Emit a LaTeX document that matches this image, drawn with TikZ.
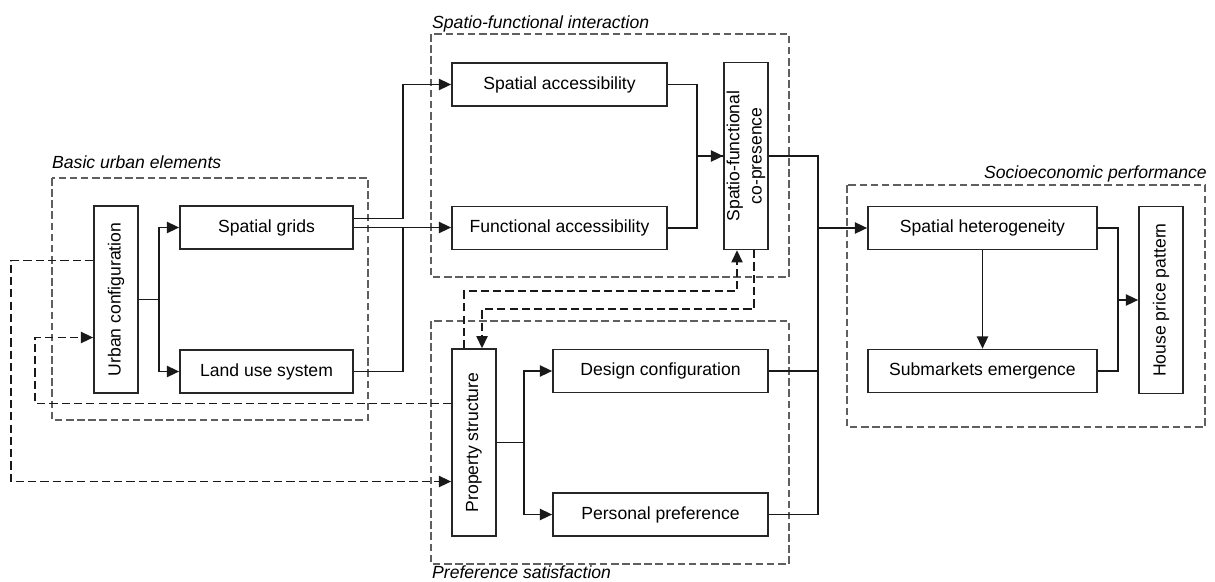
\documentclass[tikz,border=0pt]{standalone}
\usepackage{fontspec}
\setmainfont{Liberation Sans}
\usetikzlibrary{arrows.meta,calc}
\definecolor{grpgray}{RGB}{95,95,95}

\begin{document}
\begin{tikzpicture}[x=0.03cm, y=-0.03cm,
    every node/.style={font=\fontsize{15}{19}\selectfont},
    hbox/.style={draw=black!85, line width=1.4pt, inner sep=0pt, minimum height=1.29cm},
    vbox/.style={draw=black!85, line width=1.4pt, inner sep=0pt, minimum width=5.6cm, minimum height=1.32cm, rotate=90, align=center},
    grp/.style={draw=grpgray, line width=1pt, dash pattern=on 6.5pt off 3pt},
    grplabel/.style={font=\fontsize{15}{18}\selectfont\itshape, inner sep=0pt},
    link/.style={line width=1.6pt, draw=black!90},
    arr/.style={link, -{Triangle[length=10.5pt,width=9.5pt]}},
    fb/.style={link, dash pattern=on 7pt off 3.5pt},
    fbarr/.style={fb, -{Triangle[length=10.5pt,width=9.5pt]}}]

    \useasboundingbox (0,0) rectangle (1215,581);

    % group frames
    \draw[grp] (52,178) rectangle (368,420);
    \draw[grp] (431,34) rectangle (789,277);
    \draw[grp] (431,321) rectangle (789,564);
    \draw[grp] (847,185) rectangle (1205,427);

    \node[grplabel, anchor=base west] (lbue) at (52,168) {Basic urban elements};
    \node[grplabel, anchor=base west] (lsfi) at (432,28) {Spatio-functional interaction};
    \node[grplabel, anchor=base west] (lpsa) at (432,578) {Preference satisfaction};
    \node[grplabel, anchor=base east] (lsep) at (1207,178) {Socioeconomic performance};

    % boxes
    \node[vbox] (uc) at (116,299.5) {Urban configuration};
    \node[hbox, minimum width=5.19cm] (sg) at (266.5,227.5) {Spatial grids};
    \node[hbox, minimum width=5.19cm] (lu) at (266.5,371.5) {Land use system};

    \node[hbox, minimum width=6.45cm] (sa) at (559.5,84.5) {Spatial accessibility};
    \node[hbox, minimum width=6.45cm] (fa) at (559.5,228) {Functional accessibility};
    \node[vbox] (cp) at (746,156) {Spatio-functional\\co-presence};

    \node[vbox] (ps) at (474,442.5) {Property structure};
    \node[hbox, minimum width=6.45cm] (dc) at (660.5,371) {Design configuration};
    \node[hbox, minimum width=6.45cm] (pp) at (660.5,514.5) {Personal preference};

    \node[hbox, minimum width=6.87cm] (sh) at (982.5,228) {Spatial heterogeneity};
    \node[hbox, minimum width=6.87cm] (se) at (982.5,371) {Submarkets emergence};
    \node[vbox] (hp) at (1161,300) {House price pattern};

    % basic urban elements
    \draw[arr] (uc.south) -- ++(20,0) |- (sg.west);
    \draw[arr] (uc.south) -- ++(20,0) |- (lu.west);

    % into spatio-functional interaction
    \draw[arr] ($(sg.east)+(0,-9)$) -- ++(49,0) |- (sa.west);
    \draw[arr] (sg.east) -- (sg.east -| fa.west);
    \draw[link] (lu.east) -| ($(sg.east)+(49,0)$);
    \draw[arr] (sa.east) -- ++(29,0) |- (cp.north);
    \draw[link] (fa.east) -- ++(29,0) |- (cp.north);

    % preference satisfaction
    \draw[arr] (ps.south) -- ++(27,0) |- (dc.west);
    \draw[arr] (ps.south) -- ++(27,0) |- (pp.west);

    % towards socioeconomic performance
    \draw[link] (cp.south) -- ++(49,0) coordinate (j1) -- (j1 |- pp.east) -- (pp.east);
    \draw[link] (dc.east) -- (dc.east -| j1);
    \draw[arr] (j1 |- sh.west) -- (sh.west);

    \draw[arr] (sh.south) -- (se.north);
    \draw[link] (sh.east) -- ++(20,0) coordinate (j2) |- (se.east);
    \draw[arr] (j2 |- hp.north) -- (hp.north);

    % feedback loops
    \draw[fbarr] ($(uc.north)+(0,-39)$) -- ++(-82,0) |- ($(ps.north)+(0,39)$);
    \draw[fbarr] ($(ps.north)+(0,-39)$) -- ++(-416,0) |- ($(uc.north)+(0,38)$);
    \draw[fbarr] ($(ps.east)+(-10,0)$) -- ++(0,-57) -| ($(cp.west)+(-9,0)$);
    \draw[fbarr] ($(cp.west)+(8,0)$) -- ++(0,59) -| ($(ps.east)+(8,0)$);

\end{tikzpicture}
\end{document}
